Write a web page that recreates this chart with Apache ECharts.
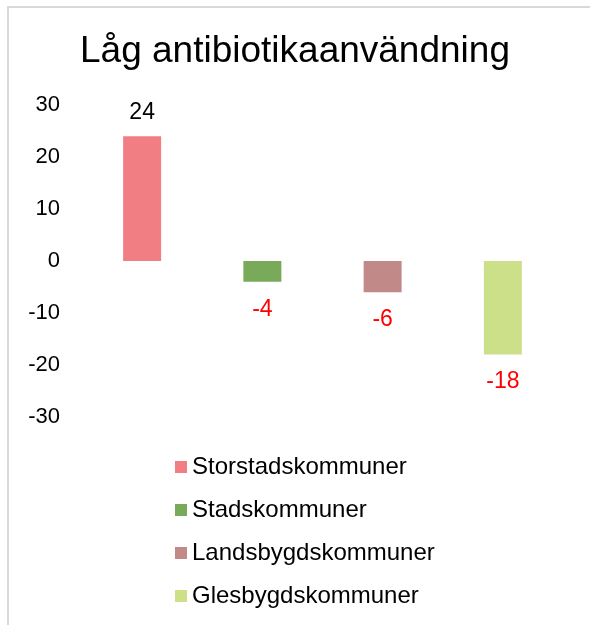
<!DOCTYPE html>
<html>
<head>
<meta charset="utf-8">
<script src="https://cdn.jsdelivr.net/npm/echarts@6/dist/echarts.min.js"></script>
<style>
  html, body { margin: 0; padding: 0; background: #fff; }
  #main { width: 590px; height: 625px; }
</style>
</head>
<body>
<div id="main"></div>
<script>
var title = "Låg antibiotikaanvändning";
var categories = ["Storstadskommuner", "Stadskommuner", "Landsbygdskommuner", "Glesbygdskommuner"];
var values = [24, -4, -6, -18];
var colors = ["#f07e82", "#78aa5a", "#c28989", "#cbe089"];
var yTicks = { min: -30, max: 30, interval: 10 };

var FONT = "'Liberation Sans', Arial, sans-serif";

var chart = echarts.init(document.getElementById("main"));

// one series per category so each gets its own legend entry
var series = categories.map(function (name, i) {
  var data = categories.map(function (c, j) { return j === i ? values[i] : null; });
  var neg = values[i] < 0;
  return {
    name: name,
    type: "bar",
    stack: "all",
    barWidth: 38,
    itemStyle: { color: colors[i] },
    label: {
      show: true,
      position: neg ? "bottom" : "top",
      distance: neg ? 16 : 12,
      color: neg ? "#ff0000" : "#000",
      fontSize: 23,
      fontFamily: FONT
    },
    data: data
  };
});

chart.setOption({
  animation: false,
  title: {
    text: title,
    left: "center",
    top: 28,
    textStyle: { fontSize: 37, fontWeight: "normal", color: "#000", fontFamily: FONT }
  },
  graphic: [{
    type: "rect",
    shape: { x: 8, y: 7, width: 700, height: 700 },
    style: { fill: null, stroke: "#d9d9d9", lineWidth: 2 },
    silent: true
  }],
  legend: {
    orient: "vertical",
    left: 170,
    top: 450,
    itemWidth: 12,
    itemHeight: 12,
    itemGap: 19,
    icon: "rect",
    textStyle: { fontSize: 24, color: "#000", fontFamily: FONT },
    data: categories
  },
  grid: { left: 82, right: 27, top: 105, bottom: 208 },
  xAxis: {
    type: "category",
    data: categories,
    axisLine: { show: false },
    axisTick: { show: false },
    axisLabel: { show: false },
    splitLine: { show: false }
  },
  yAxis: {
    type: "value",
    min: yTicks.min,
    max: yTicks.max,
    interval: yTicks.interval,
    axisLine: { show: false },
    axisTick: { show: false },
    splitLine: { show: false },
    axisLabel: { margin: 22, fontSize: 22, color: "#000", fontFamily: FONT }
  },
  series: series
});
</script>
</body>
</html>
